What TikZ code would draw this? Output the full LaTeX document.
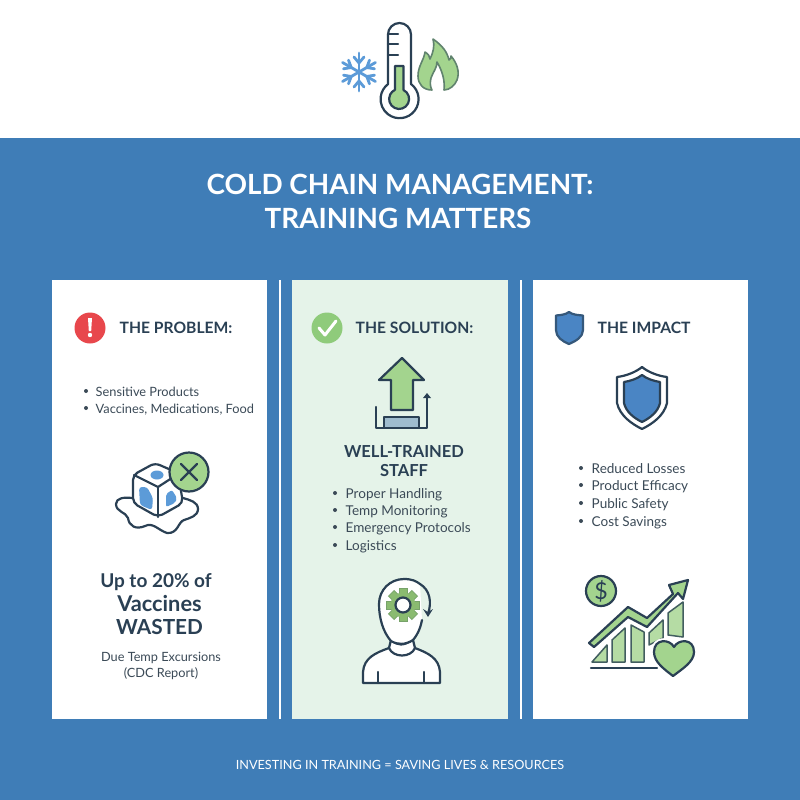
\documentclass[tikz,border=0pt]{standalone}
\usepackage{xcolor}
\usepackage{fontspec}
\setmainfont{Lato}
\usetikzlibrary{calc}
\definecolor{bandblue}{HTML}{3F7DB7}
\definecolor{inkdark}{HTML}{2A4054}
\definecolor{bodygrey}{HTML}{3B4A57}
\definecolor{fillgreen}{HTML}{A3D48E}
\definecolor{checkgreen}{HTML}{8FCB7B}
\definecolor{geargreen}{HTML}{8ABB70}
\definecolor{bargreen}{HTML}{B5DCA4}
\definecolor{palegreen}{HTML}{E5F3E9}
\definecolor{alertred}{HTML}{E8474C}
\definecolor{iceblue}{HTML}{5C9BD8}
\definecolor{shieldblue}{HTML}{4A85C4}
\tikzset{
  inkline/.style={line width=0.022cm,draw=inkdark,line join=round,line cap=round},
  barline/.style={line width=0.015cm,draw=inkdark!80!fillgreen,fill=bargreen,line join=round},
  heading/.style={anchor=base west,inner sep=0pt,text=inkdark,font=\fontsize{4.45}{5}\selectfont\bfseries},
  itemtext/.style={anchor=base west,inner sep=0pt,text=bodygrey,font=\fontsize{3.85}{4.5}\selectfont},
  bigtext/.style={anchor=base,inner sep=0pt,text=inkdark,font=\bfseries},
}
\newcommand{\itemdot}[2]{\fill [bodygrey] (#1,#2) circle (2);}
\begin{document}
\begin{tikzpicture}[x=0.01cm,y=-0.01cm]
            \useasboundingbox (0,0) rectangle (800,800);
            
            % Drawing band and cards
            \fill [white] (0,0) rectangle (800,138);%
            \fill [bandblue] (0,138) rectangle (800,800);%
            \fill [white] (52,280) rectangle (267,719);%
            \fill [palegreen] (292,280) rectangle (508,719);%
            \fill [white] (533,280) rectangle (748,719);%
            \draw [white,line width=0.02cm] (279.5,280) -- (279.5,719);%
            \draw [white,line width=0.02cm] (520.5,280) -- (520.5,719);%
            
            % Drawing title and footer
            \node [anchor=base,inner sep=0pt,text=white,font=\fontsize{7.92}{9}\selectfont\bfseries] (titleA) at (400,194) {COLD CHAIN MANAGEMENT:};%
            \node [anchor=base,inner sep=0pt,text=white,font=\fontsize{7.92}{9}\selectfont\bfseries] (titleB) at (398,228) {TRAINING MATTERS};%
            \node [anchor=base,inner sep=0pt,text=white,font=\fontsize{3.6}{4}\selectfont] (footer) at (400,769) {INVESTING IN TRAINING = SAVING LIVES \& RESOURCES};%
            
            % Drawing thermometer
            \draw [inkline,fill=white] (388,84) -- (388,34.5) arc (180:360:11.5) -- (411,84) arc (-53:233:19) -- cycle;%
            \draw [inkline,fill=fillgreen] (395,90) -- (395,66) -- (403.5,66) -- (403.5,90) arc (-64:244:10) -- cycle;%
            \draw [inkline] (388,34) -- (398,34);%
            \draw [inkline] (388,44) -- (398,44);%
            \draw [inkline] (388,55) -- (398,55);%
            
            % Drawing snowflake
            \foreach \ang in {30,90,150,210,270,330} {
              \begin{scope}[shift={(359,72)},rotate=\ang]
                \draw [iceblue,line width=0.028cm,line cap=round] (0,0) -- (19,0);%
                \draw [iceblue,line width=0.028cm,line cap=round] (9,0) -- (15,-5);%
                \draw [iceblue,line width=0.028cm,line cap=round] (9,0) -- (15,5);%
              \end{scope}
            }
            
            % Drawing flame
            \draw [line width=0.016cm,draw=inkdark!55!fillgreen,fill=fillgreen,line join=round] (433,39) .. controls (443,46) and (447,52) .. (449,60) .. controls (451,59) and (451,58) .. (451,56) .. controls (457,63) and (460,72) .. (457,80) .. controls (455,85) and (450,90) .. (444,90) .. controls (445,82) and (443,72) .. (437,62) .. controls (437,68) and (433,72) .. (431,78) .. controls (430,82) and (430,87) .. (432,90) .. controls (423,90) and (418,84) .. (418,76) .. controls (418,66) and (424,60) .. (425,52) .. controls (428,54) and (430,56) .. (430,59) .. controls (433,53) and (435,46) .. (433,39) -- cycle;%
            
            % Drawing card headings
            \fill [alertred] (90,328) circle (15.5);%
            \fill [white] (88,318) -- (92,318) -- (91.2,331) -- (88.8,331) -- cycle;%
            \fill [white] (90,335) circle (2.2);%
            \node [heading] (headA) at (119,333) {THE PROBLEM:};%
            \fill [checkgreen] (327,328) circle (15.5);%
            \draw [white,line width=0.03cm,line cap=round,line join=round] (319,328) -- (325,335) -- (336,321);%
            \node [heading] (headB) at (355,333) {THE SOLUTION:};%
            \draw [inkline,draw=inkdark!65!shieldblue,fill=shieldblue] (569,312) .. controls (573,315) and (578,315) .. (583,315.5) -- (583,330) .. controls (583,337) and (576,341) .. (569,344) .. controls (562,341) and (556,337) .. (556,330) -- (556,315.5) .. controls (560,315) and (565,315) .. (569,312) -- cycle;%
            \node [heading] (headC) at (597,333) {THE IMPACT};%
            
            % Drawing problem list
            \itemdot{86}{391}
            \itemdot{86}{408}
            \node [itemtext,font=\fontsize{3.64}{4.5}\selectfont] (listAa) at (95,396) {Sensitive Products};%
            \node [itemtext,font=\fontsize{3.64}{4.5}\selectfont] (listAb) at (95,413) {Vaccines, Medications, Food};%
            
            % Drawing melting ice cube
            \draw [inkline,fill=white] (132,498) .. controls (124,497) and (116,498) .. (116,504) .. controls (116,512) and (126,512) .. (128,518) .. controls (129,526) and (136,530) .. (145,526) .. controls (153,522) and (158,530) .. (167,533) .. controls (178,534) and (178,522) .. (184,520) .. controls (190,518) and (198,516) .. (198,509) .. controls (198,502) and (190,500) .. (183,498) -- cycle;%
            \draw [inkline,fill=white,rounded corners=0.05cm] (133,475) -- (155,463) -- (178,473) -- (183,503) -- (158,517) -- (133,503) -- cycle;%
            \draw [inkline] (134,475) -- (158,487) -- (178,474);%
            \draw [inkline] (158,487) -- (158,517);%
            \fill [iceblue] (157,475) ellipse (6.5 and 4.5);%
            \fill [iceblue,rounded corners=0.03cm] (139,487) -- (147,487) -- (153,498) -- (152,510) -- (140,505) -- cycle;%
            \fill [iceblue,rounded corners=0.02cm] (166,494) -- (172,490) -- (177,498) -- (175,503) -- (166,507) -- cycle;%
            \draw [inkline,fill=fillgreen] (189,472) circle (19.5);%
            \draw [inkline] (181,464) -- (197,480);%
            \draw [inkline] (197,464) -- (181,480);%
            
            % Drawing problem numbers
            \node [bigtext,font=\fontsize{5.4}{6}\selectfont\bfseries] (wasteA) at (156,587) {Up to 20\% of};%
            \node [bigtext,font=\fontsize{6.2}{7}\selectfont\bfseries] (wasteB) at (159.5,611) {Vaccines};%
            \node [bigtext,font=\fontsize{5.9}{7}\selectfont\bfseries] (wasteC) at (159.5,634) {WASTED};%
            \node [anchor=base,inner sep=0pt,text=bodygrey,font=\fontsize{3.62}{4}\selectfont] (causeA) at (161,661) {Due Temp Excursions};%
            \node [anchor=base,inner sep=0pt,text=bodygrey,font=\fontsize{3.62}{4}\selectfont] (causeB) at (161,677) {(CDC Report)};%
            
            % Drawing rising arrow
            \draw [inkline,fill=fillgreen] (402,358) -- (424,380) -- (413,380) -- (413,410) -- (391,410) -- (391,380) -- (379,380) -- cycle;%
            \draw [inkline,fill=iceblue!45!palegreen!80!gray] (384,417) rectangle (419,428);%
            \draw [inkline] (376,407) -- (376,428) -- (427,428) -- (427,397);%
            \fill [inkdark] (427,393) -- (431,398) -- (423,398) -- cycle;%
            
            % Drawing staff text
            \node [bigtext,font=\fontsize{4.7}{5}\selectfont\bfseries] (staffA) at (404,457) {WELL-TRAINED};%
            \node [bigtext,font=\fontsize{4.7}{5}\selectfont\bfseries] (staffB) at (404,476) {STAFF};%
            \itemdot{335}{493}
            \itemdot{335}{510}
            \itemdot{335}{527}
            \itemdot{335}{545}
            \node [itemtext] (listBa) at (345,498) {Proper Handling};%
            \node [itemtext] (listBb) at (345,515) {Temp Monitoring};%
            \node [itemtext] (listBc) at (345,532) {Emergency Protocols};%
            \node [itemtext] (listBd) at (345,550) {Logistics};%
            
            % Drawing person with gear
            \draw [inkline,fill=white] (389,648) .. controls (375,653) and (364,658) .. (363,672) -- (363,683) -- (440,683) -- (440,672) .. controls (439,658) and (428,653) .. (415,648) -- (413,640) .. controls (402,646) and (399,646) .. (391,640) -- cycle;%
            \fill [white] (391,641) .. controls (383,632) and (379,618) .. (379,604) .. controls (379,590) and (390,579) .. (404,579) .. controls (412,579) and (416,581) .. (420,584) -- (422,620) .. controls (421,625) and (419,633) .. (413,640) .. controls (405,645) and (398,645) .. (391,641) -- cycle;%
            \draw [inkline] (391,641) .. controls (383,632) and (379,618) .. (379,604) .. controls (379,590) and (390,579) .. (404,579) .. controls (412,579) and (416,581) .. (420,584) .. controls (430,590) and (432,602) .. (428,614);%
            \draw [inkline] (391,641) .. controls (398,645) and (405,645) .. (413,640) .. controls (419,633) and (421,625) .. (422,620);%
            \draw [inkline] (389,648) .. controls (393,658) and (411,658) .. (415,648);%
            \draw [inkline] (378,672) -- (378,683);%
            \draw [inkline] (424,672) -- (424,683);%
            \fill [inkdark] (428,617) -- (423,609) -- (428,612) -- (433,609) -- cycle;%
            \foreach \ang in {0,45,...,315} {
              \draw [rotate around={\ang:(403,605)},geargreen!80!inkdark,fill=geargreen,line width=0.008cm] (399,588.5) rectangle (407,597);%
            }
            \fill [geargreen] (403,605) circle (12.5);%
            \draw [inkline,fill=white] (403,605) circle (7.5);%
            
            % Drawing large shield
            \draw [inkline,fill=white] (642,367) .. controls (648,372) and (658,376) .. (667,377) -- (667,403) .. controls (664,416) and (652,424) .. (642,429) .. controls (632,424) and (620,416) .. (617,403) -- (617,377) .. controls (626,376) and (636,372) .. (642,367) -- cycle;%
            \draw [inkline,fill=shieldblue] (642,375) .. controls (647,379) and (654,381) .. (660,382) -- (660,403) .. controls (658,412) and (650,418) .. (642,422) .. controls (634,418) and (626,412) .. (624,403) -- (624,382) .. controls (630,381) and (637,379) .. (642,375) -- cycle;%
            
            % Drawing impact list
            \itemdot{581}{468}
            \itemdot{581}{485}
            \itemdot{581}{503}
            \itemdot{581}{521}
            \node [itemtext] (listCa) at (591,473) {Reduced Losses};%
            \node [itemtext] (listCb) at (591,490) {Product Efficacy};%
            \node [itemtext] (listCc) at (591,508) {Public Safety};%
            \node [itemtext] (listCd) at (591,526) {Cost Savings};%
            
            % Drawing chart
            \draw [inkline,fill=fillgreen] (601,591) circle (15);%
            \node [anchor=center,inner sep=0pt,text=inkdark,font=\fontsize{6.6}{7}\selectfont] (dollar) at (601,591) {\$};%
            \draw [inkline] (591,668) -- (657,668);%
            \draw [barline] (592,662) -- (607,645) -- (607,662) -- cycle;%
            \draw [barline] (612,662) -- (612,640) -- (625,628) -- (625,662) -- cycle;%
            \draw [barline] (631,662) -- (631,625) -- (644,632) -- (644,662) -- cycle;%
            \draw [barline] (649,645) -- (649,633) -- (663,620) -- (663,638) -- cycle;%
            \draw [barline] (668,635) -- (668,613) -- (683,602) -- (683,637) -- cycle;%
            \draw [inkline,fill=fillgreen] (589,643) -- (628,607) -- (647,618) -- (673,594) -- (669,585) -- (688,580) -- (683,599) -- (678,593) -- (647,627) -- (628,617) -- (594,647) -- cycle;%
            \draw [white,line width=0.06cm,fill=white,line join=round] (674,647) .. controls (678,639) and (694,638) .. (694,652) .. controls (694,662) and (682,669) .. (673,676) .. controls (664,669) and (654,662) .. (654,652) .. controls (654,638) and (670,639) .. (674,647) -- cycle;%
            \draw [inkline,fill=fillgreen] (674,647) .. controls (678,639) and (694,638) .. (694,652) .. controls (694,662) and (682,669) .. (673,676) .. controls (664,669) and (654,662) .. (654,652) .. controls (654,638) and (670,639) .. (674,647) -- cycle;%
\end{tikzpicture}
\end{document}
